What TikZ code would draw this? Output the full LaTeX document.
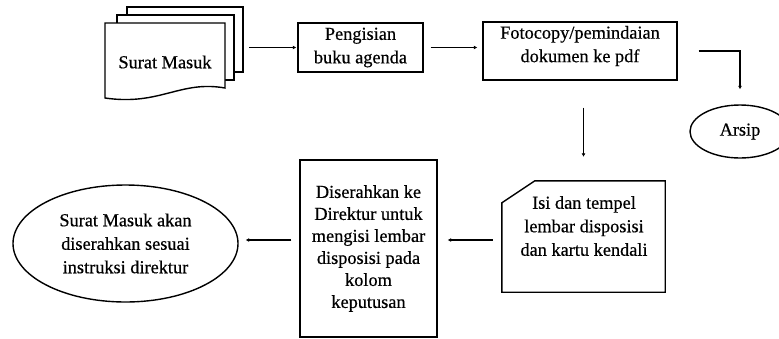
\documentclass[tikz,border=0pt]{standalone}
\usepackage{fontspec}
\setmainfont{Liberation Serif}[BoldFont={Liberation Serif}, BoldFeatures={FakeBold=0.5}]
\usetikzlibrary{shapes.geometric,arrows.meta,calc}
\begin{document}
\begin{tikzpicture}[x=1pt,y=-1pt,
  every node/.style={font=\fontsize{18.3}{23.5}\selectfont\bfseries, align=center, inner sep=0pt},
  box/.style={draw, line width=1.4pt, fill=white},
  oval/.style={draw, ellipse, line width=1.4pt, inner sep=0pt},
  arr/.style={line width=1.6pt, -{Latex[length=3.5pt,width=4pt]}}]
\useasboundingbox (0,0) rectangle (779,338);
% document stack
\draw[box] (127,7) rectangle (243,72);
\draw[box] (117,15) rectangle (234,80);
\draw[box] (105,98) -- (105,23) -- (225,23) -- (225,88)
  .. controls (180,80) and (160,106) .. (105,98) -- cycle;
\node[minimum width=138, minimum height=93] (stack) at (174,53.5) {};
\node (surat) at (165,62) {Surat Masuk};
% boxes
\node[box, minimum width=125, minimum height=49] (peng) at (360.5,47.5) {Pengisian\\buku agenda};
\node[box, minimum width=194, minimum height=58] (foto) at (580,51) {};
\node (fototext) at (580,46) {Fotocopy/pemindaian\\dokumen ke pdf};
\node[oval, minimum width=100, minimum height=53] (arsip) at (740,131.5) {Arsip};
\node[minimum width=163, minimum height=111] (card) at (583.5,236.5) {};
\draw[box] (card.south west) -- ($(card.north west)+(0,22)$) -- ($(card.north west)+(33,0)$)
  -- (card.north east) -- (card.south east) -- cycle;
\node (cardtext) at (584,226) {Isi dan tempel\\lembar disposisi\\dan kartu kendali};
\node[box, minimum width=137, minimum height=177, font=\fontsize{18.3}{22}\selectfont\bfseries] (dis) at (368.5,248.5)
  {Diserahkan ke\\Direktur untuk\\mengisi lembar\\disposisi pada\\kolom\\keputusan};
\node[oval, minimum width=225, minimum height=117] (out) at (125.5,243.5)
  {Surat Masuk akan\\diserahkan sesuai\\instruksi direktur};
% connectors
\coordinate (row) at (0,240);
\draw[arr, shorten <=6pt, shorten >=1pt] (stack.east |- peng.west) -- (peng.west);
\draw[arr, shorten <=7pt, shorten >=5pt] (peng.east) -- (peng.east -| foto.west);
\draw[arr, shorten <=21pt, shorten >=15pt] (foto.east) -| (arsip.north);
\draw[arr, shorten <=27pt, shorten >=24pt] (card.north |- foto.south) -- (card.north);
\draw[arr, shorten <=9pt, shorten >=10pt] (card.west |- row) -- (dis.east |- row);
\draw[arr, shorten <=8pt, shorten >=7pt] (dis.west |- row) -- (out.east |- row);
\end{tikzpicture}
\end{document}
